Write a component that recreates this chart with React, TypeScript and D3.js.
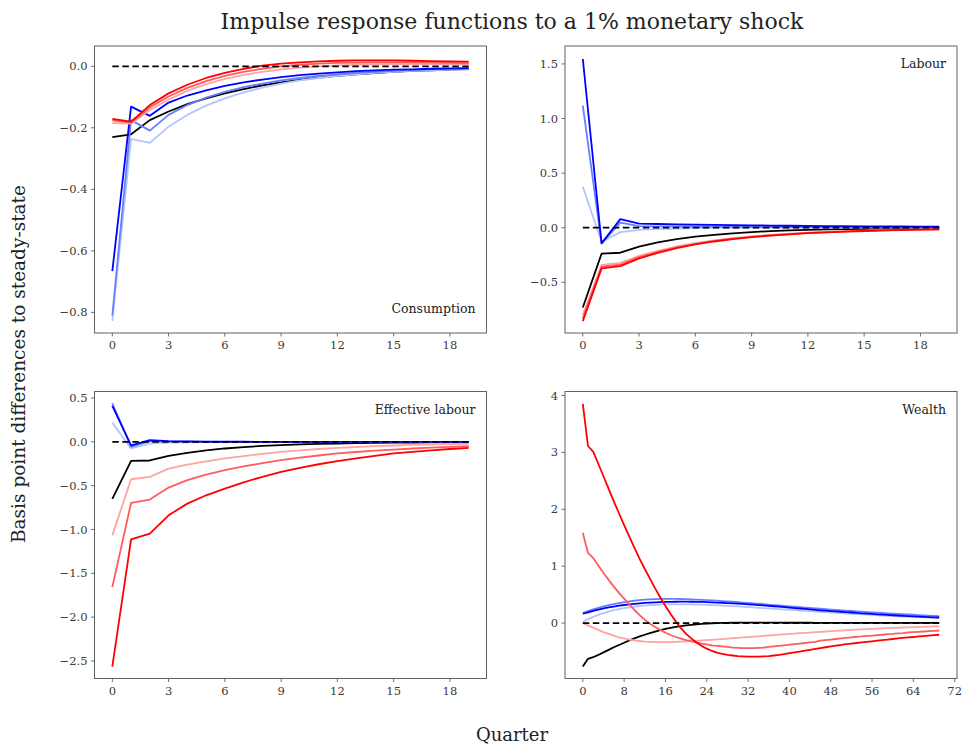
import React from "react";
import * as d3 from "d3";

// ---- Consumption (quarters 0..19)
const consBlack = [-0.230, -0.221, -0.175, -0.147, -0.123, -0.104, -0.088, -0.074, -0.062, -0.052, -0.044, -0.037, -0.031, -0.026, -0.022, -0.018, -0.015, -0.013, -0.011, -0.009];
const consRed1 = [-0.185, -0.186, -0.142, -0.108, -0.080, -0.058, -0.041, -0.028, -0.018, -0.010, -0.004, 0.000, 0.003, 0.005, 0.006, 0.007, 0.007, 0.007, 0.006, 0.006];
const consRed2 = [-0.176, -0.183, -0.133, -0.098, -0.070, -0.048, -0.031, -0.018, -0.008, 0.000, 0.005, 0.009, 0.011, 0.012, 0.013, 0.013, 0.013, 0.012, 0.011, 0.010];
const consRed3 = [-0.171, -0.180, -0.126, -0.088, -0.060, -0.038, -0.021, -0.008, 0.002, 0.009, 0.013, 0.016, 0.018, 0.019, 0.019, 0.019, 0.018, 0.017, 0.016, 0.015];
const consBlue1 = [-0.828, -0.236, -0.249, -0.196, -0.158, -0.128, -0.104, -0.085, -0.069, -0.056, -0.046, -0.038, -0.031, -0.026, -0.021, -0.018, -0.015, -0.013, -0.011, -0.010];
const consBlue2 = [-0.810, -0.175, -0.209, -0.158, -0.126, -0.102, -0.083, -0.068, -0.056, -0.046, -0.038, -0.031, -0.026, -0.021, -0.018, -0.015, -0.012, -0.010, -0.009, -0.008];
const consBlue3 = [-0.666, -0.131, -0.161, -0.118, -0.095, -0.078, -0.064, -0.052, -0.043, -0.035, -0.029, -0.024, -0.020, -0.016, -0.013, -0.011, -0.010, -0.008, -0.007, -0.006];

// ---- Labour
const labBlack = [-0.730, -0.238, -0.229, -0.174, -0.134, -0.104, -0.082, -0.065, -0.051, -0.040, -0.031, -0.024, -0.019, -0.015, -0.012, -0.010, -0.008, -0.007, -0.006, -0.005];
const labRed1 = [-0.800, -0.340, -0.322, -0.258, -0.211, -0.172, -0.141, -0.116, -0.096, -0.079, -0.066, -0.055, -0.046, -0.039, -0.033, -0.028, -0.023, -0.019, -0.016, -0.014];
const labRed2 = [-0.830, -0.357, -0.338, -0.270, -0.221, -0.180, -0.147, -0.121, -0.100, -0.083, -0.069, -0.058, -0.048, -0.040, -0.034, -0.029, -0.024, -0.020, -0.017, -0.015];
const labRed3 = [-0.855, -0.372, -0.351, -0.281, -0.230, -0.187, -0.153, -0.126, -0.104, -0.086, -0.072, -0.060, -0.050, -0.042, -0.035, -0.030, -0.025, -0.021, -0.018, -0.016];
const labBlue1 = [0.375, -0.128, -0.040, -0.020, -0.012, -0.007, -0.004, -0.002, -0.001, 0.000, 0.001, 0.001, 0.002, 0.002, 0.002, 0.002, 0.002, 0.002, 0.002, 0.002];
const labBlue2 = [1.117, -0.143, 0.046, 0.015, 0.013, 0.012, 0.011, 0.010, 0.010, 0.009, 0.009, 0.008, 0.008, 0.007, 0.007, 0.006, 0.006, 0.006, 0.005, 0.005];
const labBlue3 = [1.545, -0.143, 0.079, 0.037, 0.034, 0.031, 0.028, 0.026, 0.024, 0.022, 0.020, 0.018, 0.017, 0.015, 0.014, 0.013, 0.012, 0.011, 0.010, 0.009];

// ---- Effective labour
const effBlack = [-0.652, -0.217, -0.213, -0.160, -0.126, -0.098, -0.076, -0.060, -0.047, -0.038, -0.030, -0.024, -0.019, -0.015, -0.012, -0.010, -0.008, -0.007, -0.006, -0.005];
const effRed1 = [-1.067, -0.427, -0.400, -0.305, -0.260, -0.222, -0.190, -0.162, -0.137, -0.114, -0.097, -0.082, -0.069, -0.059, -0.050, -0.042, -0.036, -0.031, -0.027, -0.023];
const effRed2 = [-1.658, -0.697, -0.659, -0.522, -0.438, -0.375, -0.324, -0.281, -0.243, -0.210, -0.181, -0.156, -0.133, -0.116, -0.101, -0.088, -0.076, -0.066, -0.057, -0.050];
const effRed3 = [-2.565, -1.113, -1.048, -0.838, -0.705, -0.610, -0.534, -0.462, -0.399, -0.343, -0.296, -0.256, -0.221, -0.190, -0.160, -0.133, -0.114, -0.097, -0.082, -0.069];
const effBlue1 = [0.217, -0.076, -0.020, -0.010, -0.005, -0.003, -0.002, -0.001, 0.000, 0.000, 0.000, 0.000, 0.000, 0.000, 0.000, 0.000, 0.000, 0.000, 0.000, 0.000];
const effBlue2 = [0.440, -0.057, 0.008, 0.003, 0.001, 0.000, 0.000, 0.000, 0.000, 0.000, 0.000, 0.000, 0.000, 0.000, 0.000, 0.000, 0.000, 0.000, 0.000, 0.000];
const effBlue3 = [0.410, -0.040, 0.020, 0.008, 0.004, 0.002, 0.001, 0.001, 0.000, 0.000, 0.000, 0.000, 0.000, 0.000, 0.000, 0.000, 0.000, 0.000, 0.000, 0.000];

// ---- Wealth (quarters 0..69)
const wlthBlack = [-0.763, -0.628, -0.600, -0.560, -0.515, -0.470, -0.425, -0.385, -0.345, -0.305, -0.270, -0.235, -0.205, -0.175, -0.150, -0.125, -0.103, -0.084, -0.067, -0.052, -0.040, -0.030, -0.021, -0.014, -0.008, -0.003, 0.000, 0.003, 0.005, 0.006, 0.007, 0.007, 0.007, 0.007, 0.007, 0.007, 0.007, 0.007, 0.007, 0.006, 0.006, 0.006, 0.006, 0.006, 0.006, 0.005, 0.005, 0.005, 0.005, 0.005, 0.005, 0.004, 0.004, 0.004, 0.004, 0.004, 0.004, 0.003, 0.003, 0.003, 0.003, 0.003, 0.003, 0.003, 0.002, 0.002, 0.002, 0.002, 0.002, 0.002];
const wlthRed1 = [0.000, -0.040, -0.080, -0.120, -0.160, -0.190, -0.220, -0.250, -0.270, -0.290, -0.305, -0.315, -0.325, -0.330, -0.335, -0.335, -0.335, -0.333, -0.330, -0.326, -0.322, -0.317, -0.312, -0.306, -0.300, -0.294, -0.288, -0.281, -0.274, -0.267, -0.260, -0.253, -0.246, -0.239, -0.232, -0.225, -0.218, -0.211, -0.204, -0.197, -0.190, -0.184, -0.178, -0.172, -0.166, -0.160, -0.154, -0.148, -0.142, -0.136, -0.131, -0.126, -0.121, -0.116, -0.111, -0.106, -0.102, -0.098, -0.094, -0.090, -0.086, -0.082, -0.078, -0.074, -0.071, -0.068, -0.065, -0.062, -0.059, -0.056];
const wlthRed2 = [1.585, 1.233, 1.145, 1.010, 0.880, 0.760, 0.640, 0.530, 0.430, 0.330, 0.230, 0.140, 0.060, -0.010, -0.070, -0.120, -0.170, -0.210, -0.245, -0.275, -0.300, -0.320, -0.340, -0.360, -0.375, -0.390, -0.400, -0.410, -0.420, -0.430, -0.435, -0.440, -0.440, -0.440, -0.435, -0.430, -0.420, -0.410, -0.400, -0.390, -0.380, -0.370, -0.360, -0.350, -0.340, -0.330, -0.310, -0.300, -0.290, -0.280, -0.270, -0.260, -0.250, -0.240, -0.235, -0.225, -0.220, -0.210, -0.205, -0.195, -0.190, -0.180, -0.175, -0.165, -0.160, -0.155, -0.148, -0.142, -0.136, -0.130];
const wlthRed3 = [3.852, 3.112, 3.012, 2.800, 2.580, 2.360, 2.140, 1.930, 1.720, 1.520, 1.320, 1.130, 0.950, 0.780, 0.610, 0.450, 0.300, 0.160, 0.030, -0.090, -0.190, -0.270, -0.340, -0.400, -0.450, -0.490, -0.520, -0.540, -0.560, -0.570, -0.580, -0.585, -0.590, -0.590, -0.590, -0.585, -0.580, -0.570, -0.560, -0.545, -0.530, -0.515, -0.500, -0.485, -0.470, -0.455, -0.440, -0.425, -0.410, -0.395, -0.385, -0.370, -0.360, -0.350, -0.340, -0.330, -0.320, -0.310, -0.300, -0.290, -0.280, -0.270, -0.260, -0.250, -0.245, -0.235, -0.228, -0.220, -0.212, -0.205];
const wlthBlue1 = [0.020, 0.070, 0.110, 0.145, 0.176, 0.203, 0.226, 0.246, 0.263, 0.278, 0.290, 0.300, 0.308, 0.315, 0.320, 0.324, 0.327, 0.329, 0.330, 0.330, 0.329, 0.328, 0.326, 0.323, 0.320, 0.316, 0.312, 0.308, 0.303, 0.298, 0.293, 0.287, 0.281, 0.275, 0.269, 0.263, 0.257, 0.251, 0.245, 0.239, 0.233, 0.227, 0.221, 0.215, 0.209, 0.203, 0.197, 0.191, 0.185, 0.179, 0.174, 0.168, 0.163, 0.158, 0.153, 0.148, 0.143, 0.138, 0.133, 0.128, 0.124, 0.120, 0.116, 0.112, 0.108, 0.104, 0.100, 0.096, 0.092, 0.088];
const wlthBlue2 = [0.176, 0.210, 0.240, 0.267, 0.292, 0.314, 0.334, 0.352, 0.368, 0.382, 0.394, 0.404, 0.412, 0.418, 0.422, 0.425, 0.426, 0.426, 0.425, 0.423, 0.420, 0.417, 0.413, 0.409, 0.404, 0.399, 0.393, 0.387, 0.381, 0.375, 0.368, 0.361, 0.354, 0.347, 0.340, 0.332, 0.325, 0.317, 0.310, 0.302, 0.295, 0.287, 0.280, 0.273, 0.266, 0.259, 0.252, 0.245, 0.238, 0.231, 0.225, 0.218, 0.212, 0.206, 0.200, 0.194, 0.188, 0.182, 0.177, 0.171, 0.166, 0.161, 0.156, 0.151, 0.146, 0.141, 0.136, 0.131, 0.127, 0.123];
const wlthBlue3 = [0.164, 0.190, 0.215, 0.237, 0.257, 0.275, 0.291, 0.305, 0.318, 0.329, 0.339, 0.347, 0.354, 0.360, 0.365, 0.369, 0.372, 0.374, 0.375, 0.376, 0.376, 0.375, 0.373, 0.371, 0.368, 0.365, 0.361, 0.357, 0.352, 0.347, 0.342, 0.336, 0.330, 0.324, 0.317, 0.310, 0.303, 0.296, 0.289, 0.282, 0.272, 0.264, 0.256, 0.248, 0.240, 0.232, 0.225, 0.218, 0.211, 0.206, 0.199, 0.193, 0.186, 0.179, 0.172, 0.166, 0.160, 0.154, 0.148, 0.143, 0.138, 0.133, 0.128, 0.123, 0.118, 0.114, 0.110, 0.106, 0.102, 0.098];

// ---- Axis ticks and labels
const shortTicks = [0, 3, 6, 9, 12, 15, 18];
const longTicks = [0, 8, 16, 24, 32, 40, 48, 56, 64, 72];
const consYTicks = [0.0, -0.2, -0.4, -0.6, -0.8];
const labYTicks = [1.5, 1.0, 0.5, 0.0, -0.5];
const effYTicks = [0.5, 0.0, -0.5, -1.0, -1.5, -2.0, -2.5];
const wlthYTicks = [4, 3, 2, 1, 0];

const titleText = "Impulse response functions to a 1% monetary shock";
const yLabelText = "Basis point differences to steady-state";
const xLabelText = "Quarter";

const seriesColors = {
  black: "#000000",
  red1: "#ffa3a3",
  red2: "#ff5c5c",
  red3: "#ff0000",
  blue1: "#b5c3ff",
  blue2: "#6480ff",
  blue3: "#0000ff",
};

const FONT = "'DejaVu Serif', serif";
const SPINE = "#606060";
const TEXT = "#3a3a3a";

type Panel = {
  label: string;
  labelPos: "top" | "bottom";
  left: number;
  top: number;
  xDomain: [number, number];
  yDomain: [number, number];
  xTicks: number[];
  yTicks: number[];
  yFmt: (v: number) => string;
  lines: { values: number[]; color: string }[];
};

const W = 392;
const H = 287;

const fmt1 = (v: number) => (v < 0 ? "\u2212" : "") + Math.abs(v).toFixed(1);
const fmt0 = (v: number) => (v < 0 ? "\u2212" : "") + Math.abs(v).toFixed(0);

const mk = (black: number[], r1: number[], r2: number[], r3: number[], b1: number[], b2: number[], b3: number[]) => [
  { values: black, color: seriesColors.black },
  { values: b1, color: seriesColors.blue1 },
  { values: b2, color: seriesColors.blue2 },
  { values: b3, color: seriesColors.blue3 },
  { values: r1, color: seriesColors.red1 },
  { values: r2, color: seriesColors.red2 },
  { values: r3, color: seriesColors.red3 },
];

const panels: Panel[] = [
  {
    label: "Consumption", labelPos: "bottom", left: 94.5, top: 46,
    xDomain: [-0.95, 19.95], yDomain: [-0.867, 0.066],
    xTicks: shortTicks, yTicks: consYTicks, yFmt: fmt1,
    lines: mk(consBlack, consRed1, consRed2, consRed3, consBlue1, consBlue2, consBlue3),
  },
  {
    label: "Labour", labelPos: "top", left: 565, top: 46,
    xDomain: [-0.95, 19.95], yDomain: [-0.964, 1.664],
    xTicks: shortTicks, yTicks: labYTicks, yFmt: fmt1,
    lines: mk(labBlack, labRed1, labRed2, labRed3, labBlue1, labBlue2, labBlue3),
  },
  {
    label: "Effective labour", labelPos: "top", left: 94.5, top: 391.5,
    xDomain: [-0.95, 19.95], yDomain: [-2.70, 0.574],
    xTicks: shortTicks, yTicks: effYTicks, yFmt: fmt1,
    lines: mk(effBlack, effRed1, effRed2, effRed3, effBlue1, effBlue2, effBlue3),
  },
  {
    label: "Wealth", labelPos: "top", left: 565, top: 391.5,
    xDomain: [-3.45, 72.45], yDomain: [-0.974, 4.07],
    xTicks: longTicks, yTicks: wlthYTicks, yFmt: fmt0,
    lines: mk(wlthBlack, wlthRed1, wlthRed2, wlthRed3, wlthBlue1, wlthBlue2, wlthBlue3),
  },
];

function PanelView({ p }: { p: Panel }) {
  const x = d3.scaleLinear().domain(p.xDomain).range([0, W]);
  const y = d3.scaleLinear().domain(p.yDomain).range([H, 0]);
  const n = p.lines[0].values.length;
  const line = d3
    .line<number>()
    .x((_, i) => x(i))
    .y((v) => y(v));
  const zero = new Array(n).fill(0);
  return (
    <g transform={`translate(${p.left},${p.top})`}>
      <rect x={0} y={0} width={W} height={H} fill="#ffffff" />
      <g>
        {p.lines.map((l, i) => (
          <path key={i} d={line(l.values) || ""} fill="none" stroke={l.color} strokeWidth={1.8} strokeLinejoin="round" />
        ))}
        <path d={line(zero) || ""} fill="none" stroke="#000" strokeWidth={1.8} strokeDasharray="6.5,3.5" />
      </g>
      <rect x={0} y={0} width={W} height={H} fill="none" stroke={SPINE} strokeWidth={1} />
      {p.xTicks.map((t) => (
        <g key={"x" + t} transform={`translate(${x(t)},${H})`}>
          <line y1={0} y2={3.5} stroke={SPINE} strokeWidth={0.9} />
          <text y={16} textAnchor="middle" fontFamily={FONT} fontSize={11.5} fill={TEXT}>
            {String(t)}
          </text>
        </g>
      ))}
      {p.yTicks.map((t) => (
        <g key={"y" + t} transform={`translate(0,${y(t)})`}>
          <line x1={0} x2={-3.5} stroke={SPINE} strokeWidth={0.9} />
          <text x={-7} dy="0.35em" textAnchor="end" fontFamily={FONT} fontSize={11.5} fill={TEXT}>
            {p.yFmt(t)}
          </text>
        </g>
      ))}
      <text
        x={W - 11}
        y={p.labelPos === "top" ? 22 : H - 20}
        textAnchor="end"
        fontFamily={FONT}
        fontSize={12.5}
        fill="#222"
      >
        {p.label}
      </text>
    </g>
  );
}

export default function App() {
  return (
    <svg
      width={963}
      height={744}
      style={{ position: "absolute", left: 0, top: 0, background: "#fff" }}
    >
      <rect width={963} height={744} fill="#fff" />
      <text x={512} y={29} textAnchor="middle" fontFamily={FONT} fontSize={22} fill="#222">
        {titleText}
      </text>
      {panels.map((p, i) => (
        <PanelView key={i} p={p} />
      ))}
      <text
        transform="translate(25,364) rotate(-90)"
        textAnchor="middle"
        fontFamily={FONT}
        fontSize={18.5}
        fill="#222"
      >
        {yLabelText}
      </text>
      <text x={512} y={741} textAnchor="middle" fontFamily={FONT} fontSize={18} fill="#222">
        {xLabelText}
      </text>
    </svg>
  );
}
